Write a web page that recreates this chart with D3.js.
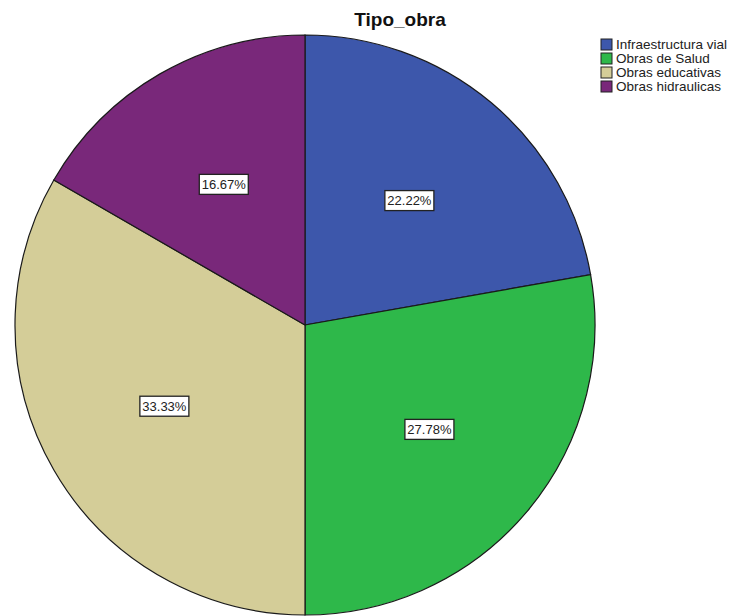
<!DOCTYPE html>
<html>
<head>
<meta charset="utf-8">
<script src="https://cdn.jsdelivr.net/npm/d3@7"></script>
<style>
  body { margin: 0; background: #fff; }
  text { font-family: "Liberation Sans", Arial, sans-serif; }
</style>
</head>
<body>
<div id="chart"></div>
<script>
// data
const categories = ["Infraestructura vial", "Obras de Salud", "Obras educativas", "Obras hidraulicas"];
const percents = [22.22, 27.78, 33.33, 16.67];
const colors = ["#3d57ab", "#2eb84a", "#d4cd98", "#79287a"];

const width = 734, height = 616;
const cx = 305, cy = 325, radius = 290;

const svg = d3.select("#chart").append("svg")
    .attr("width", width)
    .attr("height", height);

// title
svg.append("text")
    .attr("x", 400)
    .attr("y", 26)
    .attr("text-anchor", "middle")
    .attr("font-size", "19px")
    .attr("font-weight", "bold")
    .attr("fill", "#111")
    .text("Tipo_obra");

const data = categories.map(function(c, i) { return { name: c, value: percents[i] }; });

const pie = d3.pie()
    .sort(null)
    .value(function(d) { return d.value; });

const arc = d3.arc()
    .innerRadius(0)
    .outerRadius(radius);

const labelArc = d3.arc()
    .innerRadius(radius * 0.56)
    .outerRadius(radius * 0.56);

const color = d3.scaleOrdinal().domain(categories).range(colors);

const g = svg.append("g")
    .attr("transform", "translate(" + cx + "," + cy + ")");

const slices = pie(data);

g.selectAll("path.slice")
    .data(slices)
    .enter().append("path")
    .attr("class", "slice")
    .attr("d", arc)
    .attr("fill", function(d) { return color(d.data.name); })
    .attr("stroke", "#1a1a1a")
    .attr("stroke-width", 1.2);

// percent labels in white boxes
const labels = g.selectAll("g.lbl")
    .data(slices)
    .enter().append("g")
    .attr("class", "lbl")
    .attr("transform", function(d) {
        const c = labelArc.centroid(d);
        return "translate(" + c[0] + "," + c[1] + ")";
    });

labels.append("rect")
    .attr("x", -24.5)
    .attr("y", -10)
    .attr("width", 49)
    .attr("height", 20)
    .attr("fill", "#fff")
    .attr("stroke", "#222")
    .attr("stroke-width", 1.3);

labels.append("text")
    .attr("text-anchor", "middle")
    .attr("dy", "0.36em")
    .attr("font-size", "13px")
    .attr("fill", "#222")
    .text(function(d) { return d.data.value.toFixed(2) + "%"; });

// legend
const legend = svg.append("g")
    .attr("transform", "translate(601,39)");

const rows = legend.selectAll("g.row")
    .data(categories)
    .enter().append("g")
    .attr("class", "row")
    .attr("transform", function(d, i) { return "translate(0," + (i * 14) + ")"; });

rows.append("rect")
    .attr("width", 11)
    .attr("height", 11)
    .attr("fill", function(d) { return color(d); })
    .attr("stroke", "#222")
    .attr("stroke-width", 1);

rows.append("text")
    .attr("x", 15)
    .attr("y", 5.5)
    .attr("dy", "0.36em")
    .attr("font-size", "13.5px")
    .attr("fill", "#222")
    .text(function(d) { return d; });
</script>
</body>
</html>
